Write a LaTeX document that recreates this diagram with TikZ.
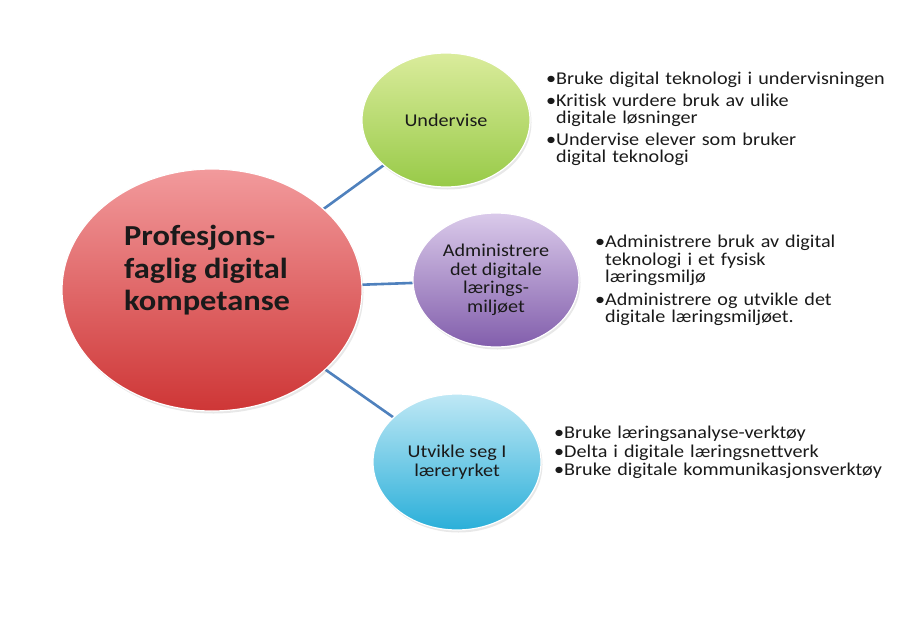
\documentclass[tikz,border=0pt]{standalone}
\usepackage{fontspec}
\setmainfont{Carlito}[FakeStretch=1.12,Ligatures=NoCommon]
\usetikzlibrary{shapes.geometric,shadows,backgrounds}
\definecolor{linkblue}{HTML}{4F81BD}
\definecolor{txt}{HTML}{1A1A1A}
\definecolor{redtop}{HTML}{F29A9C}
\definecolor{redbot}{HTML}{CE3636}
\definecolor{greentop}{HTML}{DAEC9C}
\definecolor{greenbot}{HTML}{98CA48}
\definecolor{purptop}{HTML}{DACAEA}
\definecolor{purpbot}{HTML}{825EAC}
\definecolor{bluetop}{HTML}{BFE8F5}
\definecolor{bluebot}{HTML}{2AAFD9}
\tikzset{
  bubble/.style={ellipse, inner sep=0pt, draw=white, line width=1.2pt,
    shading=axis, shading angle=0, text=txt, align=center,
    font=\fontsize{18}{18.5}\selectfont,
    drop shadow={opacity=0.18, shadow xshift=1.5pt, shadow yshift=-2.5pt}},
  link/.style={draw=linkblue, line width=2.6pt},
  bullets/.style={anchor=north west, align=left, text=txt, inner sep=0pt,
    font=\fontsize{18}{16.8}\selectfont},
}
\newcommand{\bitem}[1]{\noindent\makebox[10pt][l]{\textbullet}\begin{tabular}[t]{@{}l@{}}#1\end{tabular}\par}
\begin{document}
\begin{tikzpicture}[x=1pt,y=-1pt]
\useasboundingbox (0,0) rectangle (920,621);
% nodes
\node[bubble, minimum width=300pt, minimum height=242pt, top color=redtop, bottom color=redbot] (main) at (212,290) {};
\node[anchor=north west, align=left, text=txt, font=\fontsize{29}{32.5}\selectfont\bfseries, inner sep=0pt] (maintext) at (124,225) {Profesjons-\\faglig digital\\kompetanse};
\node[bubble, minimum width=168pt, minimum height=134pt, top color=greentop, bottom color=greenbot] (und) at (446,120) {Undervise};
\node[bubble, minimum width=166pt, minimum height=134pt, top color=purptop, bottom color=purpbot] (adm) at (496,280) {Administrere\\det digitale\\lærings-\\miljøet};
\node[bubble, minimum width=168pt, minimum height=136pt, top color=bluetop, bottom color=bluebot] (utv) at (457,462) {Utvikle seg I\\læreryrket};
% connectors
\begin{scope}[on background layer]
\fill[white] (0,0) rectangle (920,621);
\draw[link] (main.center) -- (und.center);
\draw[link] (main.center) -- (adm.center);
\draw[link] (main.center) -- (utv.center);
\end{scope}
% bullet lists
\node[bullets, text width=360pt] (l1) at (546,72) {%
\bitem{Bruke digital teknologi i undervisningen}\vspace{3pt}%
\bitem{Kritisk vurdere bruk av ulike\\digitale løsninger}\vspace{3pt}%
\bitem{Undervise elever som bruker\\digital teknologi}};
\node[bullets, text width=310pt] (l2) at (595,235) {%
\bitem{Administrere bruk av digital\\teknologi i et fysisk\\læringsmiljø}\vspace{4pt}%
\bitem{Administrere og utvikle det\\digitale læringsmiljøet.}};
\node[bullets, text width=360pt] (l3) at (554,426) {%
\bitem{Bruke læringsanalyse-verktøy}%
\bitem{Delta i digitale læringsnettverk}%
\bitem{Bruke digitale kommunikasjonsverktøy}};
\end{tikzpicture}
\end{document}
